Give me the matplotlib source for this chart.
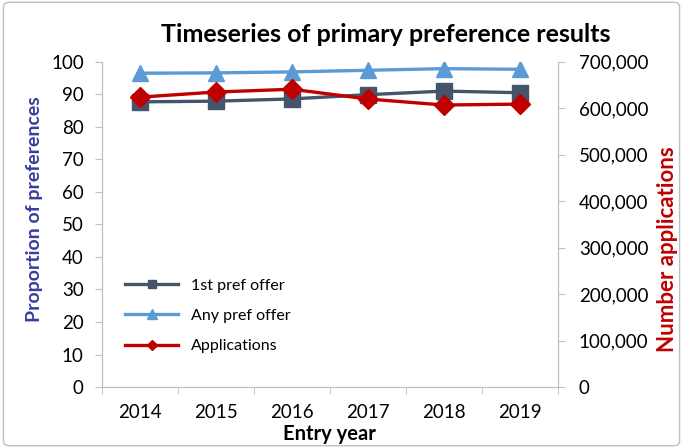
import numpy as np
import matplotlib
matplotlib.use("Agg")
import matplotlib.pyplot as plt
from matplotlib.ticker import FuncFormatter
from matplotlib.patches import FancyBboxPatch

plt.rcParams['font.family'] = ['Lato', 'DejaVu Sans']

years = ["2014", "2015", "2016", "2017", "2018", "2019"]
first_pref = [87.7, 87.9, 88.6, 89.9, 91.0, 90.5]
any_pref = [96.5, 96.6, 96.9, 97.4, 97.9, 97.7]
applications = [624000, 635000, 641000, 620000, 607000, 609000]

fig = plt.figure(figsize=(6.83, 4.48), dpi=100)
ax = fig.add_axes([0.149, 0.136, 0.668, 0.726])
ax2 = ax.twinx()

x = np.arange(len(years))
l1, = ax.plot(x, first_pref, color="#44546A", lw=2.4, marker="s", ms=11, label="1st pref offer")
l2, = ax.plot(x, any_pref, color="#5B9BD5", lw=2.4, marker="^", ms=12, label="Any pref offer")
l3, = ax2.plot(x, applications, color="#C00000", lw=2.4, marker="D", ms=10, label="Applications")

ax.set_xlim(-0.5, len(years) - 0.5)
ax.set_ylim(0, 100)
ax2.set_ylim(0, 700000)
ax.set_yticks(np.arange(0, 101, 10))
ax2.set_yticks(np.arange(0, 700001, 100000))
ax2.yaxis.set_major_formatter(FuncFormatter(lambda v, p: f"{int(v):,}"))

ax.set_xticks(x, labels=years)
ax.set_xticks(np.arange(-0.5, len(years), 1), minor=True)
ax.tick_params(axis="x", which="major", length=0, pad=12, labelsize=13.5)
ax.tick_params(axis="x", which="minor", length=5, color="#BFBFBF")
ax.tick_params(axis="y", length=5, color="#BFBFBF", labelsize=13.5, pad=8)
ax2.tick_params(axis="y", length=5, color="#BFBFBF", labelsize=13.5, pad=10)

for a in (ax, ax2):
    for s in a.spines.values():
        s.set_color("#BFBFBF")
    a.spines["top"].set_visible(False)

fig.text(0.565, 0.922, "Timeseries of primary preference results", fontsize=18,
         fontweight="bold", ha="center", va="center")
ax.set_xlabel("Entry year", fontsize=14.5, fontweight="bold", labelpad=2)
ax.set_ylabel("Proportion of preferences", fontsize=14, fontweight="bold", color="#3B3BA0")
ax.yaxis.set_label_coords(-0.129, 0.548)
ax2.set_ylabel("Number applications", fontsize=16, fontweight="bold", color="#C00000")
ax2.yaxis.set_label_coords(1.217, 0.425)

ax.legend(handles=[l1, l2, l3], loc="lower left", bbox_to_anchor=(0.02, 0.06), frameon=False,
          fontsize=11.5, markerscale=0.55, handlelength=3.3, labelspacing=1.0)

border = FancyBboxPatch((0.005, 0.005), 0.99, 0.99, boxstyle="round,pad=0,rounding_size=0.01",
                        transform=fig.transFigure, fill=False, edgecolor="#BFBFBF", lw=1)
fig.patches.append(border)

fig.savefig("out.png", dpi=100)
